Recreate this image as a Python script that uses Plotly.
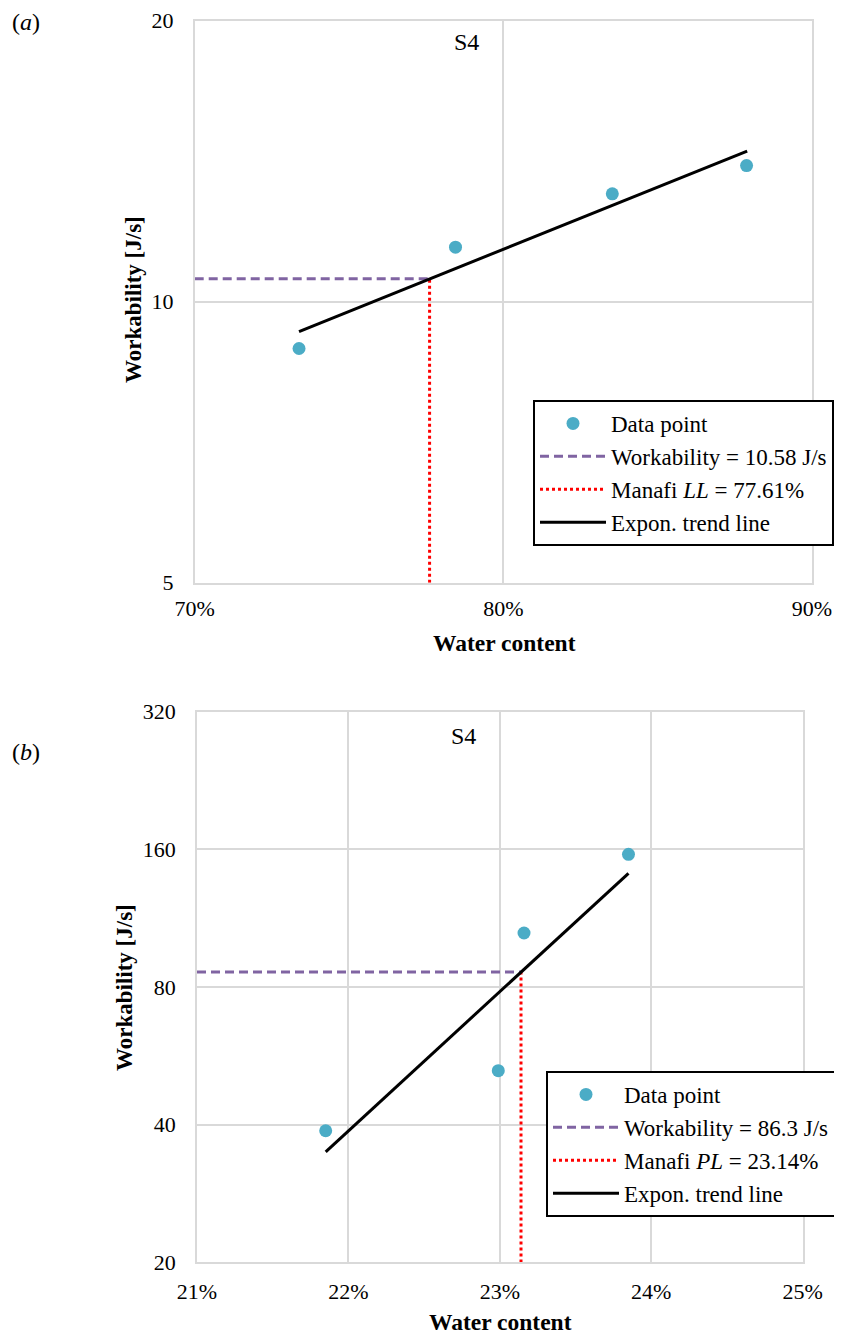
import math
import plotly.graph_objects as go

# ---------------- data ----------------
# (a) liquid limit test
a_water = [0.7338, 0.7845, 0.8353, 0.8788]
a_work = [8.91, 11.44, 13.05, 13.99]
a_trend_water = [0.7338, 0.8790]
a_trend_work = [9.29, 14.50]
a_workability = 10.58
a_limit = 0.7761
a_xrange = [0.70, 0.90]
a_xticks = [0.70, 0.80, 0.90]
a_yticks = [5, 10, 20]

# (b) plastic limit test
b_water = [0.2185, 0.2299, 0.2316, 0.2385]
b_work = [38.8, 52.5, 105.0, 156.0]
b_trend_water = [0.2185, 0.2385]
b_trend_work = [34.9, 141.8]
b_workability = 86.3
b_limit = 0.2314
b_xrange = [0.21, 0.25]
b_xticks = [0.21, 0.22, 0.23, 0.24, 0.25]
b_yticks = [20, 40, 80, 160, 320]

# ---------------- styling ----------------
OFF = 8  # page body margin
W, H = 842 - OFF, 1335 - OFF
FONT = "Liberation Serif"
PT_COLOR = "#4BACC6"
DASH_COLOR = "#8064A2"
GRID = "#D9D9D9"


def px_x(p):
    return (p - OFF) / W


def px_y(p):
    return 1 - (p - OFF) / H


fig = go.Figure()


def add_panel(xa, ya, legend, water, work, tw, twk, workab, limit, xr, yticks, limname, workname):
    xref = "x" if xa == 1 else f"x{xa}"
    yref = "y" if ya == 1 else f"y{ya}"
    fig.add_trace(go.Scatter(x=water, y=work, mode="markers", name="Data point",
                             marker=dict(color=PT_COLOR, size=13),
                             xaxis=xref, yaxis=yref, legend=legend, legendgroup=legend + "a"))
    fig.add_trace(go.Scatter(x=[xr[0], limit], y=[workab, workab], mode="lines", name=workname,
                             line=dict(color=DASH_COLOR, width=3, dash="9px,5px"),
                             xaxis=xref, yaxis=yref, legend=legend, legendgroup=legend + "b"))
    fig.add_trace(go.Scatter(x=[limit, limit], y=[yticks[0], workab], mode="lines", name=limname,
                             line=dict(color="red", width=3, dash="3px,3px"),
                             xaxis=xref, yaxis=yref, legend=legend, legendgroup=legend + "c"))
    fig.add_trace(go.Scatter(x=tw, y=twk, mode="lines", name="Expon. trend line",
                             line=dict(color="black", width=3),
                             xaxis=xref, yaxis=yref, legend=legend, legendgroup=legend + "d"))


add_panel(1, 1, "legend", a_water, a_work, a_trend_water, a_trend_work, a_workability, a_limit,
          a_xrange, a_yticks, "Manafi <i>LL</i> = 77.61%", "Workability = 10.58 J/s")
add_panel(2, 2, "legend2", b_water, b_work, b_trend_water, b_trend_work, b_workability, b_limit,
          b_xrange, b_yticks, "Manafi <i>PL</i> = 23.14%", "Workability = 86.3 J/s")

tickfont = dict(family=FONT, size=22, color="black")
axis_common = dict(showgrid=True, gridcolor=GRID, gridwidth=1.5, showline=True, mirror=True,
                   linecolor=GRID, linewidth=1.5, zeroline=False, ticks="", tickfont=tickfont,
                   automargin=False)

legend_common = dict(xanchor="left", yanchor="top", bordercolor="black", borderwidth=2,
                     bgcolor="white", font=dict(family=FONT, size=23, color="black"),
                     itemwidth=66, tracegroupgap=0, traceorder="grouped")

fig.update_layout(
    width=W, height=H, margin=dict(l=0, r=0, t=0, b=0, autoexpand=False),
    paper_bgcolor="white", plot_bgcolor="white",
    font=dict(family=FONT, size=22, color="black"),
    xaxis=dict(domain=[px_x(194.7), px_x(812)], range=a_xrange, tickvals=a_xticks,
               tickformat=".0%", anchor="y", ticklabelstandoff=5, **axis_common),
    yaxis=dict(domain=[px_y(582.7), px_y(20.7)], type="log",
               range=[math.log10(a_yticks[0]), math.log10(a_yticks[-1])],
               tickvals=a_yticks, ticktext=[str(v) for v in a_yticks], anchor="x",
               ticklabelstandoff=15, **axis_common),
    xaxis2=dict(domain=[px_x(197), px_x(802.6)], range=b_xrange,
                tickvals=b_xticks, tickformat=".0%", anchor="y2",
                ticklabelstandoff=8, **axis_common),
    yaxis2=dict(domain=[px_y(1262.4), px_y(711.6)], type="log",
                range=[math.log10(b_yticks[0]), math.log10(b_yticks[-1])],
                tickvals=b_yticks, ticktext=[str(v) for v in b_yticks], anchor="x2",
                ticklabelstandoff=15, **axis_common),
    legend=dict(x=px_x(533), y=px_y(400), **legend_common),
    legend2=dict(x=px_x(546), y=px_y(1071), **legend_common),
    showlegend=True,
)

ann = []


def add_text(text, x, y, size=22, angle=0):
    ann.append(dict(text=text, x=px_x(x), y=px_y(y), xref="paper", yref="paper",
                    showarrow=False, textangle=angle, xanchor="center", yanchor="middle",
                    font=dict(family=FONT, size=size, color="black")))


add_text("(<i>a</i>)", 26, 22, size=24)
add_text("(<i>b</i>)", 26, 752, size=24)
add_text("S4", 466, 42, size=24)
add_text("S4", 463, 736, size=24)
add_text("<b>Workability [J/s]</b>", 133, 300, size=23, angle=-90)
add_text("<b>Workability [J/s]</b>", 124, 988, size=23, angle=-90)
add_text("<b>Water content</b>", 504, 643, size=23.5)
add_text("<b>Water content</b>", 500, 1322, size=23.5)
fig.update_layout(annotations=ann)

fig.write_html("out.html")
